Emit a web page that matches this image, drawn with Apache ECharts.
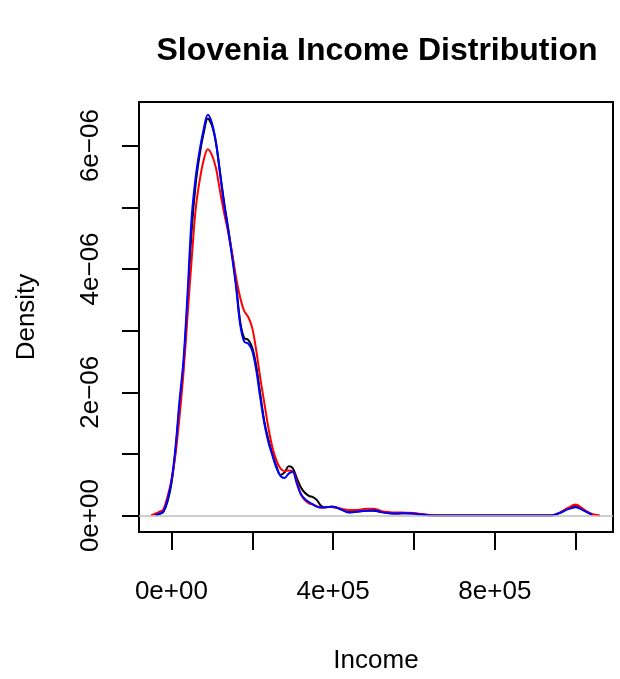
<!DOCTYPE html>
<html>
<head>
<meta charset="utf-8">
<script src="https://cdn.jsdelivr.net/npm/echarts@6/dist/echarts.min.js"></script>
<style>
  html, body { margin: 0; padding: 0; background: #fff; }
  #chart { width: 620px; height: 679px; }
</style>
</head>
<body>
<div id="chart"></div>
<script>
// Income grid (evaluation points of the density estimates)
const incomeX = [-50000,-40000,-30000,-20000,-10000,0,10000,20000,30000,40000,50000,60000,70000,80000,90000,100000,
  110000,120000,130000,140000,150000,160000,170000,180000,190000,200000,210000,220000,230000,240000,250000,260000,
  270000,280000,290000,300000,310000,320000,330000,340000,350000,360000,370000,380000,390000,400000,420000,440000,
  460000,480000,500000,520000,540000,560000,580000,600000,620000,640000,660000,700000,750000,800000,850000,900000,
  920000,940000,960000,980000,1000000,1020000,1040000,1060000];

// Density values, in units of 1e-6
const densityBlack = [null,0.005,0.025,0.06,0.22,0.52,1.05,1.78,2.45,3.48,4.62,5.38,5.86,6.21,6.44,6.33,
  6.05,5.58,5.10,4.68,4.24,3.75,3.15,2.88,2.85,2.72,2.42,1.96,1.52,1.23,1.00,0.80,
  0.66,0.70,0.80,0.77,0.61,0.46,0.37,0.32,0.30,0.25,0.16,0.135,0.14,0.145,0.10,0.055,
  0.065,0.08,0.08,0.058,0.04,0.036,0.04,0.033,0.017,0.004,0.001,0,0,0,0,0,
  0.001,0.003,0.045,0.115,0.155,0.09,0.018,null];

const densityRed = [0.005,0.03,0.06,0.10,0.30,0.57,0.99,1.60,2.33,3.25,4.15,4.97,5.44,5.77,5.94,5.85,
  5.64,5.27,4.92,4.61,4.26,3.86,3.54,3.32,3.22,3.04,2.67,2.22,1.82,1.42,1.10,0.89,
  0.76,0.72,0.73,0.72,0.56,0.35,0.25,0.20,0.18,0.15,0.13,0.135,0.14,0.137,0.11,0.09,
  0.092,0.11,0.11,0.072,0.056,0.05,0.048,0.043,0.024,0.008,0.002,0,0,0,0,0,
  0.001,0.003,0.045,0.12,0.18,0.10,0.025,0.002];

const densityBlue = [null,0.005,0.03,0.065,0.25,0.56,1.10,1.86,2.53,3.62,4.83,5.49,5.93,6.27,6.50,6.37,
  6.06,5.56,5.06,4.64,4.20,3.70,3.10,2.82,2.79,2.67,2.35,1.90,1.49,1.19,0.97,0.77,
  0.64,0.61,0.68,0.71,0.52,0.35,0.27,0.22,0.18,0.145,0.13,0.135,0.14,0.145,0.10,0.05,
  0.065,0.08,0.085,0.056,0.037,0.035,0.04,0.032,0.016,0.003,0.001,0,0,0,0,0,
  0.001,0.002,0.04,0.10,0.137,0.08,0.016,null];

// Ticks and labels
const xTickValues = [0, 200000, 400000, 600000, 800000, 1000000];
const xLabelValues = [0, 400000, 800000];
const xLabelTexts = ['0e+00', '4e+05', '8e+05'];
const yTickValues = [0, 1e-6, 2e-6, 3e-6, 4e-6, 5e-6, 6e-6];
const yLabelValues = [0, 2e-6, 4e-6, 6e-6];
const yLabelTexts = ['0e+00', '2e\u221206', '4e\u221206', '6e\u221206'];

function pairs(ys) {
  return incomeX.map((x, i) => [x, ys[i] == null ? null : ys[i] * 1e-6]);
}
function lookup(vals, texts, v, tol) {
  for (let i = 0; i < vals.length; i++) if (Math.abs(vals[i] - v) <= tol) return texts[i];
  return '';
}

const FONT = 'Liberation Sans, Arial, Helvetica, sans-serif';
const chart = echarts.init(document.getElementById('chart'));

const lineSeries = (name, color, ys, extra) => Object.assign({
  name, type: 'line', data: pairs(ys), showSymbol: false, symbol: 'none',
  smooth: 0.35, connectNulls: false, silent: true, animation: false,
  lineStyle: { color, width: 2 }
}, extra || {});

chart.setOption({
  animation: false,
  backgroundColor: '#ffffff',
  title: {
    text: 'Slovenia Income Distribution',
    left: 377, top: 35, textAlign: 'center', padding: 0,
    textStyle: { fontFamily: FONT, fontWeight: 'bold', fontSize: 32, color: '#000' }
  },
  grid: {
    left: 139, top: 102, width: 474, height: 432,
    show: true, borderColor: '#000', borderWidth: 2, backgroundColor: 'transparent'
  },
  xAxis: {
    type: 'value', min: -80200, max: 1092300,
    name: 'Income', nameLocation: 'middle', nameGap: 116,
    nameTextStyle: { fontFamily: FONT, fontSize: 26, color: '#000' },
    axisLine: { show: false, onZero: false },
    axisTick: { show: true, inside: false, length: 18, customValues: xTickValues, lineStyle: { color: '#000', width: 2 } },
    axisLabel: {
      show: true, customValues: xLabelValues, margin: 47,
      fontFamily: FONT, fontSize: 26, color: '#000',
      formatter: v => lookup(xLabelValues, xLabelTexts, v, 1)
    },
    splitLine: { show: false }
  },
  yAxis: {
    type: 'value', min: -0.266e-6, max: 6.707e-6,
    name: 'Density', nameLocation: 'middle', nameGap: 99, nameRotate: 90,
    nameTextStyle: { fontFamily: FONT, fontSize: 26, color: '#000' },
    axisLine: { show: false, onZero: false },
    axisTick: { show: true, inside: false, length: 17, customValues: yTickValues, lineStyle: { color: '#000', width: 2 } },
    axisLabel: {
      show: true, customValues: yLabelValues, rotate: 90, margin: 35,
      fontFamily: FONT, fontSize: 26, color: '#000',
      formatter: v => lookup(yLabelValues, yLabelTexts, v, 1e-9)
    },
    splitLine: { show: false }
  },
  series: [
    lineSeries('black', '#000000', densityBlack, {
      z: 2,
      markLine: {
        silent: true, symbol: ['none', 'none'], animation: false,
        label: { show: false },
        lineStyle: { color: '#bebebe', width: 1.5, type: 'solid' },
        data: [{ yAxis: 0 }]
      }
    }),
    lineSeries('red', '#ff0000', densityRed, { z: 3 }),
    lineSeries('blue', '#0000ff', densityBlue, { z: 4 })
  ]
});
</script>
</body>
</html>
